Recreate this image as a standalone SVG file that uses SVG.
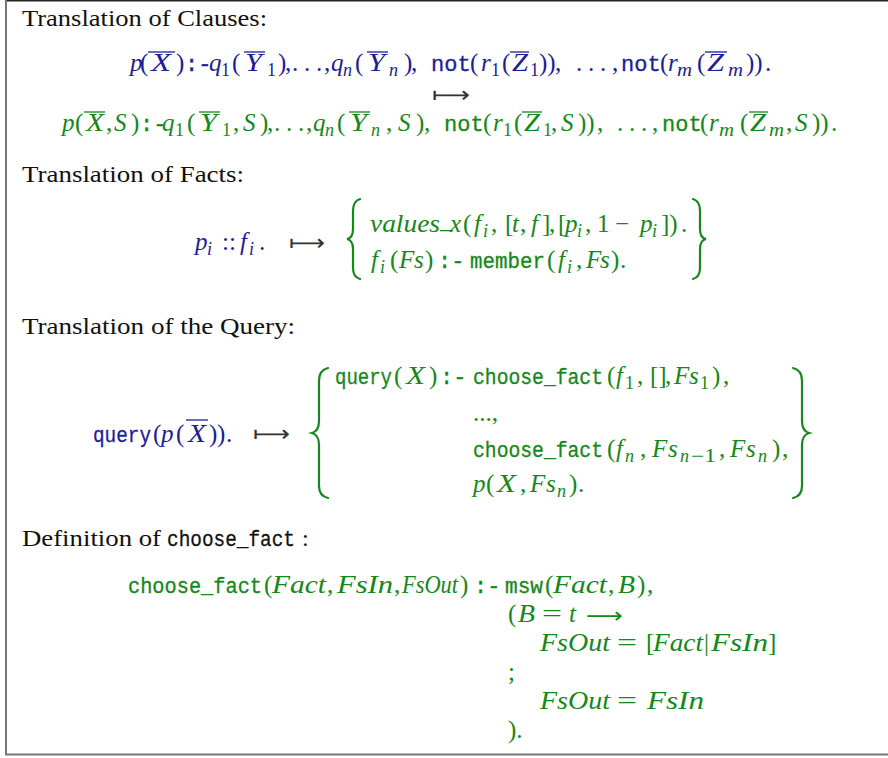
<svg xmlns="http://www.w3.org/2000/svg" width="888" height="758" viewBox="0 0 888 758">
<style>
.h{font-family:"Liberation Serif",serif;font-size:24px}
.r{font-family:"Liberation Serif",serif;font-size:25px}
.i{font-family:"Liberation Serif",serif;font-size:25px;font-style:italic}
.t{font-family:"Liberation Mono",monospace;font-size:22px;stroke-width:0.3}
.s{font-size:18px}
.ar{font-family:"DejaVu Sans",sans-serif;font-size:22px}
.B{fill:#1d1d98}
.G{fill:#14881a}
.K{fill:#111}
.B .t{stroke:#1d1d98}
.G .t{stroke:#14881a}
.K .t{stroke:#111}
.B line{stroke:#1d1d98;stroke-width:1.3}
.G line{stroke:#14881a;stroke-width:1.3}
.br{fill:none;stroke:#14881a;stroke-width:2.2;stroke-linecap:round}
.arw{fill:#333}
</style>
<rect x="0" y="0" width="888" height="758" fill="#fff"/>
<g id="frame" fill="none">
<line x1="6" y1="0.75" x2="888" y2="0.75" stroke="#222" stroke-width="1.5"/>
<line x1="6" y1="0" x2="6" y2="755" stroke="#777" stroke-width="2"/>
<line x1="5" y1="754.5" x2="888" y2="754.5" stroke="#777" stroke-width="2"/>
</g>

<g id="clauses">
<text class="h K" x="22" y="26" textLength="245" lengthAdjust="spacingAndGlyphs">Translation of Clauses:</text>
<g class="B">
<text y="71">
<tspan class="i" x="130">p</tspan><tspan class="r" x="140">(</tspan><tspan class="i" x="151" textLength="20" lengthAdjust="spacingAndGlyphs">X</tspan><tspan class="r" x="176">)</tspan><tspan class="t" x="185">:-</tspan><tspan class="i" x="209">q</tspan><tspan class="r s" x="221" y="76">1</tspan><tspan class="r" x="232" y="71">(</tspan><tspan class="i" x="245" textLength="17" lengthAdjust="spacingAndGlyphs">Y</tspan><tspan class="r s" x="267" y="76">1</tspan><tspan class="r" x="278" y="71">)</tspan><tspan class="r" x="285">,</tspan><tspan class="r" x="292">.</tspan><tspan class="r" x="304">.</tspan><tspan class="r" x="316">.</tspan><tspan class="r" x="324">,</tspan><tspan class="i" x="331">q</tspan><tspan class="i s" x="343" y="76">n</tspan><tspan class="r" x="355" y="71">(</tspan><tspan class="i" x="368" textLength="17" lengthAdjust="spacingAndGlyphs">Y</tspan><tspan class="i s" x="389" y="76">n</tspan><tspan class="r" x="404" y="71">)</tspan><tspan class="r" x="411">,</tspan><tspan class="t" x="431">not</tspan><tspan class="r" x="470">(</tspan><tspan class="i" x="481">r</tspan><tspan class="r s" x="491" y="76">1</tspan><tspan class="r" x="502" y="71">(</tspan><tspan class="i" x="512" textLength="16" lengthAdjust="spacingAndGlyphs">Z</tspan><tspan class="r s" x="530" y="76">1</tspan><tspan class="r" x="539" y="71">))</tspan><tspan class="r" x="555">,</tspan><tspan class="r" x="576">.</tspan><tspan class="r" x="588">.</tspan><tspan class="r" x="600">.</tspan><tspan class="r" x="612">,</tspan><tspan class="t" x="621">not</tspan><tspan class="r" x="660">(</tspan><tspan class="i" x="668">r</tspan><tspan class="i s" x="677" y="76" textLength="15" lengthAdjust="spacingAndGlyphs">m</tspan><tspan class="r" x="697" y="71">(</tspan><tspan class="i" x="707" textLength="17" lengthAdjust="spacingAndGlyphs">Z</tspan><tspan class="i s" x="728" y="76" textLength="15" lengthAdjust="spacingAndGlyphs">m</tspan><tspan class="r" x="746" y="71">))</tspan><tspan class="r" x="765">.</tspan>
</text>
<line x1="148" y1="52" x2="175" y2="52"/>
<line x1="244" y1="52" x2="265" y2="52"/>
<line x1="367" y1="52" x2="388" y2="52"/>
<line x1="510" y1="52" x2="529" y2="52"/>
<line x1="705" y1="52" x2="727" y2="52"/>
</g>
<text class="ar arw" x="432" y="102" textLength="38" lengthAdjust="spacingAndGlyphs">⟼</text>
<g class="G">
<text y="131">
<tspan class="i" x="62">p</tspan><tspan class="r" x="75">(</tspan><tspan class="i" x="86" textLength="18" lengthAdjust="spacingAndGlyphs">X</tspan><tspan class="r" x="106">,</tspan><tspan class="i" x="114">S</tspan><tspan class="r" x="131">)</tspan><tspan class="t" x="140">:-</tspan><tspan class="i" x="162">q</tspan><tspan class="r s" x="175" y="136">1</tspan><tspan class="r" x="187" y="131">(</tspan><tspan class="i" x="200" textLength="17" lengthAdjust="spacingAndGlyphs">Y</tspan><tspan class="r s" x="222" y="136">1</tspan><tspan class="r" x="233" y="131">,</tspan><tspan class="i" x="243">S</tspan><tspan class="r" x="260">)</tspan><tspan class="r" x="267">,</tspan><tspan class="r" x="274">.</tspan><tspan class="r" x="286">.</tspan><tspan class="r" x="298">.</tspan><tspan class="r" x="306">,</tspan><tspan class="i" x="313">q</tspan><tspan class="i s" x="325" y="136">n</tspan><tspan class="r" x="337" y="131">(</tspan><tspan class="i" x="350" textLength="17" lengthAdjust="spacingAndGlyphs">Y</tspan><tspan class="i s" x="371" y="136">n</tspan><tspan class="r" x="386" y="131">,</tspan><tspan class="i" x="398">S</tspan><tspan class="r" x="416">)</tspan><tspan class="r" x="424">,</tspan><tspan class="t" x="444">not</tspan><tspan class="r" x="483">(</tspan><tspan class="i" x="493">r</tspan><tspan class="r s" x="503" y="136">1</tspan><tspan class="r" x="514" y="131">(</tspan><tspan class="i" x="524" textLength="16" lengthAdjust="spacingAndGlyphs">Z</tspan><tspan class="r s" x="543" y="136">1</tspan><tspan class="r" x="551" y="131">,</tspan><tspan class="i" x="561">S</tspan><tspan class="r" x="578">))</tspan><tspan class="r" x="597">,</tspan><tspan class="r" x="617">.</tspan><tspan class="r" x="629">.</tspan><tspan class="r" x="641">.</tspan><tspan class="r" x="652">,</tspan><tspan class="t" x="662">not</tspan><tspan class="r" x="700">(</tspan><tspan class="i" x="709">r</tspan><tspan class="i s" x="719" y="136" textLength="15" lengthAdjust="spacingAndGlyphs">m</tspan><tspan class="r" x="740" y="131">(</tspan><tspan class="i" x="750" textLength="16" lengthAdjust="spacingAndGlyphs">Z</tspan><tspan class="i s" x="769" y="136" textLength="15" lengthAdjust="spacingAndGlyphs">m</tspan><tspan class="r" x="786" y="131">,</tspan><tspan class="i" x="795">S</tspan><tspan class="r" x="812">))</tspan><tspan class="r" x="831">.</tspan>
</text>
<line x1="84" y1="112" x2="105" y2="112"/>
<line x1="199" y1="112" x2="220" y2="112"/>
<line x1="349" y1="112" x2="370" y2="112"/>
<line x1="522" y1="112" x2="542" y2="112"/>
<line x1="749" y1="112" x2="768" y2="112"/>
</g>
</g>

<g id="facts">
<text class="h K" x="22" y="182" textLength="222" lengthAdjust="spacingAndGlyphs">Translation of Facts:</text>
<g class="B">
<text y="250"><tspan class="i" x="195">p</tspan><tspan class="i s" x="207" y="255">i</tspan><tspan class="r" x="222" y="250">::</tspan><tspan class="i" x="240">f</tspan><tspan class="i s" x="249" y="255">i</tspan><tspan class="r" x="259" y="250">.</tspan></text>
</g>
<text class="ar arw" x="289" y="250" textLength="36" lengthAdjust="spacingAndGlyphs">⟼</text>
<g class="G">
<path class="br" d="M360,199 Q353,201 353,211 L353,229 Q353,238 347,239 Q353,240 353,249 L353,268 Q353,277 360,279"/>
<path class="br" d="M693,199 Q700,201 700,211 L700,229 Q700,238 706,239 Q700,240 700,249 L700,268 Q700,277 693,279"/>
<text class="i" x="370" y="232" textLength="70" lengthAdjust="spacingAndGlyphs">values</text>
<text y="232"><tspan class="r" x="440" y="228">_</tspan><tspan class="i" x="450" y="232">x</tspan><tspan class="r" x="463">(</tspan><tspan class="i" x="474">f</tspan><tspan class="i s" x="483" y="237">i</tspan><tspan class="r" x="491" y="232">,</tspan><tspan class="r" x="505">[</tspan><tspan class="i" x="512">t</tspan><tspan class="r" x="520">,</tspan><tspan class="i" x="531">f</tspan><tspan class="r" x="542">]</tspan><tspan class="r" x="549">,</tspan><tspan class="r" x="558">[</tspan><tspan class="i" x="565">p</tspan><tspan class="i s" x="577" y="237">i</tspan><tspan class="r" x="585" y="232">,</tspan><tspan class="r" x="597">1</tspan><tspan class="r" x="615">−</tspan><tspan class="i" x="640">p</tspan><tspan class="i s" x="652" y="237">i</tspan><tspan class="r" x="661" y="232">])</tspan><tspan class="r" x="681">.</tspan></text>
<text y="268"><tspan class="i" x="371">f</tspan><tspan class="i s" x="380" y="273">i</tspan><tspan class="r" x="390" y="268">(</tspan><tspan class="i" x="399">F</tspan><tspan class="i" x="414">s</tspan><tspan class="r" x="425">)</tspan><tspan class="t" x="438">:-</tspan><tspan class="t" x="470" textLength="75" lengthAdjust="spacingAndGlyphs">member</tspan><tspan class="r" x="547">(</tspan><tspan class="i" x="558">f</tspan><tspan class="i s" x="567" y="273">i</tspan><tspan class="r" x="576" y="268">,</tspan><tspan class="i" x="586">F</tspan><tspan class="i" x="600">s</tspan><tspan class="r" x="611">)</tspan><tspan class="r" x="620">.</tspan></text>
</g>
</g>

<g id="query">
<text class="h K" x="22" y="334" textLength="273" lengthAdjust="spacingAndGlyphs">Translation of the Query:</text>
<g class="B">
<text y="442"><tspan class="t" x="93" textLength="58" lengthAdjust="spacingAndGlyphs">query</tspan><tspan class="r" x="153">(</tspan><tspan class="i" x="161">p</tspan><tspan class="r" x="176">(</tspan><tspan class="i" x="188" textLength="18" lengthAdjust="spacingAndGlyphs">X</tspan><tspan class="r" x="209">)</tspan><tspan class="r" x="217">)</tspan><tspan class="r" x="226">.</tspan></text>
<line x1="186" y1="420" x2="208" y2="420"/>
</g>
<text class="ar arw" x="253" y="441" textLength="37" lengthAdjust="spacingAndGlyphs">⟼</text>
<g class="G">
<path class="br" d="M328,368 Q319,370 319,381 L319,421 Q319,431 312,433 Q319,435 319,445 L319,486 Q319,496 328,498"/>
<path class="br" d="M793,368 Q802,370 802,381 L802,421 Q802,431 809,433 Q802,435 802,445 L802,486 Q802,496 793,498"/>
<text y="384"><tspan class="t" x="335" textLength="57" lengthAdjust="spacingAndGlyphs">query</tspan><tspan class="r" x="394">(</tspan><tspan class="i" x="406" textLength="19" lengthAdjust="spacingAndGlyphs">X</tspan><tspan class="r" x="429">)</tspan><tspan class="t" x="440">:-</tspan></text>
<text class="t" x="473" y="384" textLength="130" lengthAdjust="spacingAndGlyphs">choose_fact</text>
<text y="384"><tspan class="r" x="607">(</tspan><tspan class="i" x="616">f</tspan><tspan class="r s" x="625" y="389">1</tspan><tspan class="r" x="637" y="384">,</tspan><tspan class="r" x="650">[]</tspan><tspan class="r" x="665">,</tspan><tspan class="i" x="674">F</tspan><tspan class="i" x="689">s</tspan><tspan class="r s" x="700" y="389">1</tspan><tspan class="r" x="712" y="384">)</tspan><tspan class="r" x="723">,</tspan></text>
<text class="r" x="473" y="421">...,</text>
<text class="t" x="473" y="457" textLength="130" lengthAdjust="spacingAndGlyphs">choose_fact</text>
<text y="457"><tspan class="r" x="607">(</tspan><tspan class="i" x="616">f</tspan><tspan class="i s" x="625" y="462">n</tspan><tspan class="r" x="640" y="457">,</tspan><tspan class="i" x="652">F</tspan><tspan class="i" x="668">s</tspan><tspan class="i s" x="680" y="462">n</tspan><tspan class="r s" x="691" y="462" textLength="25" lengthAdjust="spacingAndGlyphs">−1</tspan><tspan class="r" x="719" y="457">,</tspan><tspan class="i" x="730">F</tspan><tspan class="i" x="746">s</tspan><tspan class="i s" x="758" y="462">n</tspan><tspan class="r" x="772" y="457">)</tspan><tspan class="r" x="782">,</tspan></text>
<text y="492"><tspan class="i" x="473">p</tspan><tspan class="r" x="486">(</tspan><tspan class="i" x="497" textLength="19" lengthAdjust="spacingAndGlyphs">X</tspan><tspan class="r" x="520">,</tspan><tspan class="i" x="530">F</tspan><tspan class="i" x="546">s</tspan><tspan class="i s" x="557" y="497">n</tspan><tspan class="r" x="569" y="492">)</tspan><tspan class="r" x="578">.</tspan></text>
</g>
</g>

<g id="choose_fact">
<g class="K">
<text class="h" x="22" y="546" textLength="139" lengthAdjust="spacingAndGlyphs">Definition of</text>
<text class="t" x="167" y="546" textLength="128" lengthAdjust="spacingAndGlyphs">choose_fact</text>
<text class="h" x="302" y="546">:</text>
</g>
<g class="G">
<text class="t" x="128" y="593" textLength="134" lengthAdjust="spacingAndGlyphs">choose_fact</text>
<text class="r" x="264" y="593">(</text>
<text class="i" x="272" y="593" textLength="54" lengthAdjust="spacingAndGlyphs">Fact</text>
<text class="r" x="327" y="593">,</text>
<text class="i" x="337" y="593" textLength="56" lengthAdjust="spacingAndGlyphs">FsIn</text>
<text class="r" x="394" y="593">,</text>
<text class="i" x="402" y="593" textLength="56" lengthAdjust="spacingAndGlyphs">FsOut</text>
<text class="r" x="460" y="593">)</text>
<text class="t" x="474" y="593">:-</text>
<text class="t" x="505" y="593" textLength="38" lengthAdjust="spacingAndGlyphs">msw</text>
<text class="r" x="545" y="593">(</text>
<text class="i" x="553" y="593" textLength="54" lengthAdjust="spacingAndGlyphs">Fact</text>
<text class="r" x="608" y="593">,</text>
<text class="i" x="618" y="593" textLength="17" lengthAdjust="spacingAndGlyphs">B</text>
<text class="r" x="637" y="593">)</text>
<text class="r" x="647" y="593">,</text>
<text y="622"><tspan class="r" x="508">(</tspan><tspan class="i" x="518" textLength="17" lengthAdjust="spacingAndGlyphs">B</tspan><tspan class="r" x="542" textLength="20" lengthAdjust="spacingAndGlyphs">=</tspan><tspan class="i" x="569">t</tspan></text>
<text class="ar" x="586" y="623" textLength="37" lengthAdjust="spacingAndGlyphs">⟶</text>
<text class="i" x="540" y="651" textLength="70" lengthAdjust="spacingAndGlyphs">FsOut</text>
<text class="r" x="617" y="651" textLength="20" lengthAdjust="spacingAndGlyphs">=</text>
<text class="r" x="646" y="651">[</text>
<text class="i" x="653" y="651" textLength="50" lengthAdjust="spacingAndGlyphs">Fact</text>
<text class="r" x="704" y="651">|</text>
<text class="i" x="711" y="651" textLength="57" lengthAdjust="spacingAndGlyphs">FsIn</text>
<text class="r" x="768" y="651">]</text>
<text class="r" x="508" y="680">;</text>
<text class="i" x="540" y="709" textLength="70" lengthAdjust="spacingAndGlyphs">FsOut</text>
<text class="r" x="617" y="709" textLength="20" lengthAdjust="spacingAndGlyphs">=</text>
<text class="i" x="647" y="709" textLength="57" lengthAdjust="spacingAndGlyphs">FsIn</text>
<text class="r" x="508" y="738">).</text>
</g>
</g>
</svg>
